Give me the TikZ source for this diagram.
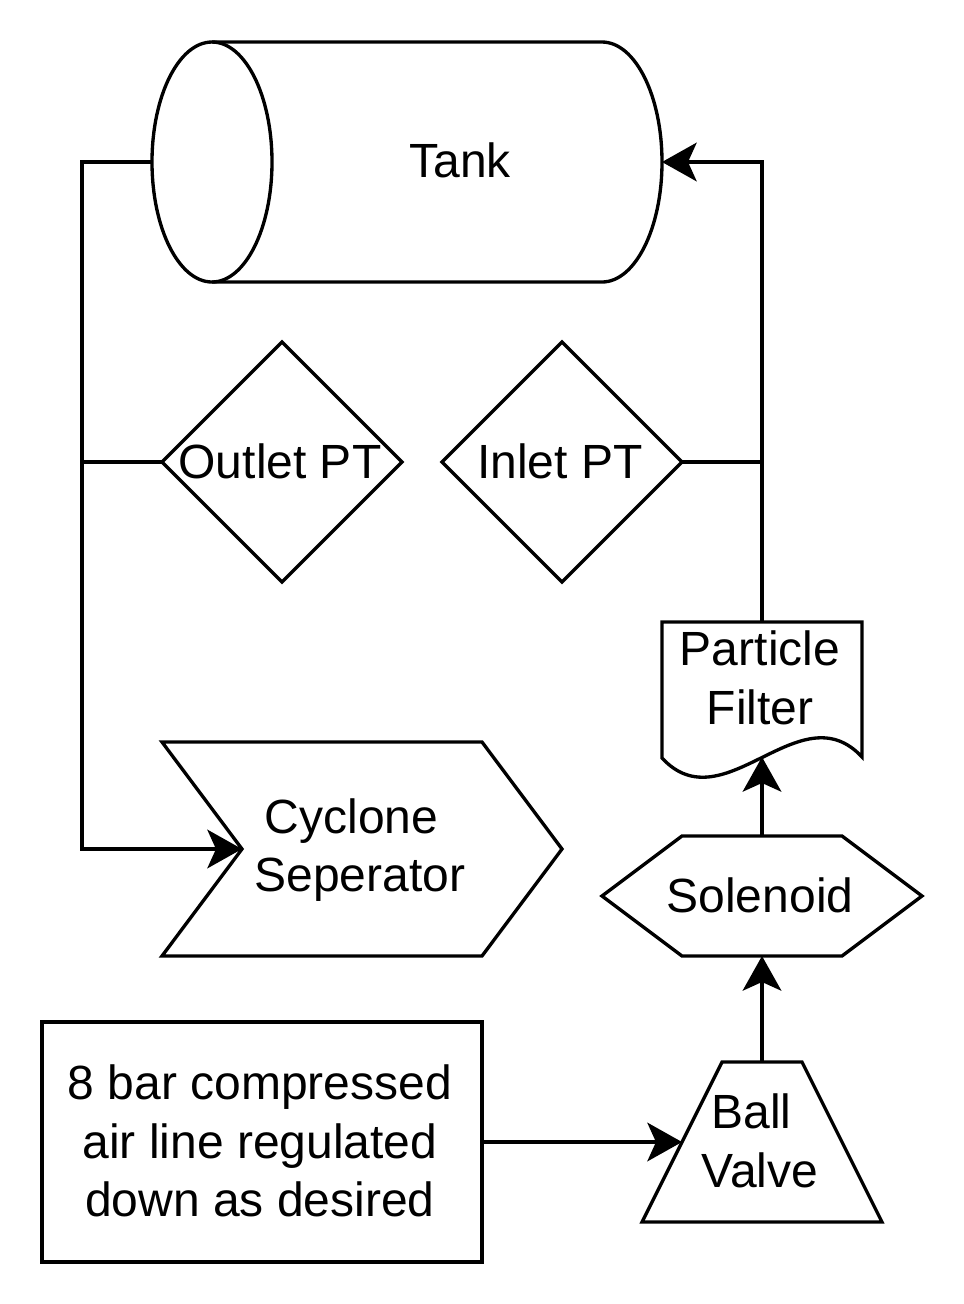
\documentclass[tikz,border=0pt]{standalone}
\usepackage{fontspec}
\setmainfont{Liberation Sans}
\usetikzlibrary{arrows.meta}
\begin{document}
\begin{tikzpicture}[x=0.75pt,y=-0.75pt,
  shp/.style={draw=black,line width=2.5pt,line join=miter},
  conn/.style={draw=black,line width=2.5pt},
  arr/.style={conn,-{Stealth[length=26pt,width=29pt,inset=6.5pt]}},
  lbl/.style={font=\fontsize{36}{44}\selectfont,align=center,inner sep=0pt}]
\useasboundingbox (0,0) rectangle (964,1304);
% Tank
\draw[shp] (212,42) -- (602,42) .. controls (635.1,42) and (662,95.7) .. (662,162)
  .. controls (662,228.3) and (635.1,282) .. (602,282) -- (212,282);
\draw[shp] (212,162) ellipse [x radius=45pt, y radius=90pt];
\node[lbl] (tank) at (460,160) {Tank};
\coordinate (tankL) at (152,162);
\coordinate (tankR) at (662,162);
% Outlet PT
\draw[shp] (162,462) -- (282,342) -- (402,462) -- (282,582) -- cycle;
\node[lbl] (outlet) at (280,461) {Outlet PT};
\coordinate (outletL) at (162,462);
% Inlet PT
\draw[shp] (442,462) -- (562,342) -- (682,462) -- (562,582) -- cycle;
\node[lbl] (inlet) at (560,461) {Inlet PT};
\coordinate (inletR) at (682,462);
% Particle filter
\draw[shp] (662,758) -- (662,622) -- (862,622) -- (862,757)
  .. controls (800,690) and (724,825) .. (662,758) -- cycle;
\node[lbl] (filter) at (760,678) {Particle\\Filter};
\coordinate (filterT) at (762,622);
\coordinate (filterB) at (762,757);
% Solenoid
\draw[shp] (602,896) -- (682,836) -- (842,836) -- (922,896) -- (842,956) -- (682,956) -- cycle;
\node[lbl] (solenoid) at (760,895) {Solenoid};
\coordinate (solT) at (762,836);
\coordinate (solB) at (762,956);
% Cyclone separator
\draw[shp] (162,742) -- (482,742) -- (562,849) -- (482,956) -- (162,956) -- (242,849) -- cycle;
\node[lbl] (cyclone) at (360,850) {\mbox{Cyclone\hspace{0.35em}}\\Seperator};
\coordinate (cycL) at (242,849);
% Air line box
\draw[shp] (42,1022) rectangle (482,1262);
\node[lbl] (air) at (260,1141) {8 bar compressed\\air line regulated\\down as desired};
\coordinate (airR) at (482,1142);
% Ball valve
\draw[shp] (642,1222) -- (722,1062) -- (802,1062) -- (882,1222) -- cycle;
\node[lbl] (ball) at (760,1141) {\mbox{Ball\hspace{0.35em}}\\Valve};
\coordinate (ballT) at (762,1062);
\coordinate (ballL) at (682,1142);
% Connectors
\coordinate (c1) at (82,162);
\coordinate (c2) at (82,849);
\coordinate (c3) at (82,462);
\coordinate (c4) at (762,462);
\coordinate (c5) at (762,162);
\draw[arr] (tankL) -- (c1) -- (c2) -- (cycL);
\draw[conn] (c3) -- (outletL);
\draw[conn] (inletR) -- (c4);
\draw[arr] (filterT) -- (c5) -- (tankR);
\draw[arr] (solT) -- (filterB);
\draw[arr] (ballT) -- (solB);
\draw[arr] (airR) -- (ballL);
\end{tikzpicture}
\end{document}
